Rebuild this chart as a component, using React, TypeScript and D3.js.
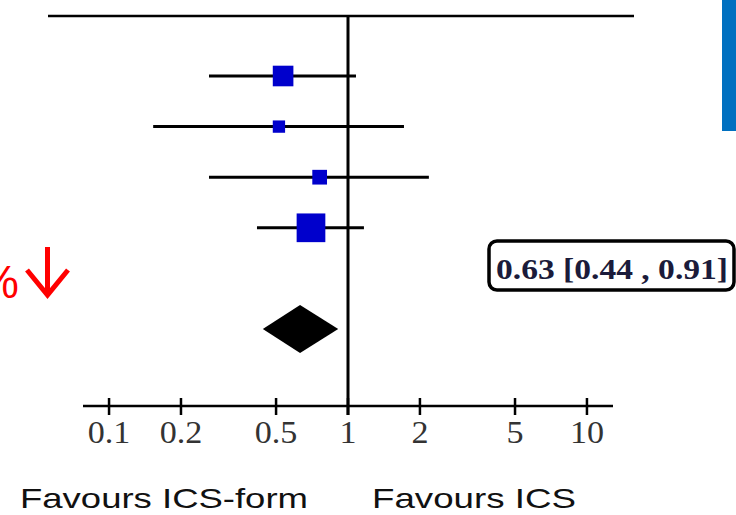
import React from "react";
import * as d3 from "d3";

// Study rows (odds ratios with 95% CI) and relative weights (%)
const studyEstimates = [0.535, 0.514, 0.761, 0.70];
const studyLower = [0.262, 0.153, 0.262, 0.416];
const studyUpper = [1.08, 1.715, 2.18, 1.166];
const studyWeights = [26.3, 9.4, 13.4, 51.0];

// Pooled estimate
const pooled = { est: 0.63, lo: 0.44, hi: 0.91 };
const pooledLabel = "0.63 [0.44 , 0.91]";

const tickValues = [0.1, 0.2, 0.5, 1, 2, 5, 10];
const tickLabels = ["0.1", "0.2", "0.5", "1", "2", "5", "10"];

const leftFavour = "Favours ICS-form";
const rightFavour = "Favours ICS";

export default function App() {
  const x = d3
    .scaleLog()
    .domain([Math.pow(10, -1.109), Math.pow(10, 1.109)])
    .range([83, 613]);
  const y = d3.scaleLinear().domain([0, 5]).range([76, 329]);
  const size = d3.scaleSqrt().domain([0, 51]).range([0, 28.7]);

  const axisY = 406;
  const topY = 16;
  const serif = "'Liberation Serif', 'Times New Roman', serif";
  const sans = "'Liberation Sans', Arial, sans-serif";

  const py = y(5);
  const dh = 24;
  const diamond = [
    [x(pooled.lo), py],
    [x(pooled.est), py - dh],
    [x(pooled.hi), py],
    [x(pooled.est), py + dh],
  ]
    .map((p) => p.join(","))
    .join(" ");

  return (
    <svg
      width={736}
      height={515}
      style={{ position: "absolute", left: 0, top: 0, background: "#fff" }}
    >
      <rect x={0} y={0} width={736} height={515} fill="#fff" />
      {/* blue decorative bar */}
      <rect x={722} y={0} width={14} height={131} fill="#0070C0" />

      {/* top line */}
      <line x1={48} x2={634} y1={topY} y2={topY} stroke="#000" strokeWidth={2.5} />
      {/* null line */}
      <line x1={x(1)} x2={x(1)} y1={topY} y2={415} stroke="#000" strokeWidth={3} />

      {/* study rows */}
      {studyEstimates.map((e, i) => {
        const s = size(studyWeights[i]);
        return (
          <g key={i}>
            <line
              x1={x(studyLower[i])}
              x2={x(studyUpper[i])}
              y1={y(i)}
              y2={y(i)}
              stroke="#000"
              strokeWidth={3}
            />
            <rect x={x(e) - s / 2} y={y(i) - s / 2} width={s} height={s} fill="#0000CC" />
          </g>
        );
      })}

      {/* pooled diamond */}
      <polygon points={diamond} fill="#000" />

      {/* axis */}
      <line x1={83} x2={613} y1={axisY} y2={axisY} stroke="#000" strokeWidth={2.5} />
      {tickValues.map((t, i) => (
        <g key={t}>
          <line x1={x(t)} x2={x(t)} y1={398} y2={415} stroke="#000" strokeWidth={2.5} />
          <text
            transform={`translate(${x(t)},443) scale(1.1,1)`}
            textAnchor="middle"
            fontFamily={serif}
            fontSize={31}
            fill="#333"
          >
            {tickLabels[i]}
          </text>
        </g>
      ))}

      {/* pooled label box */}
      <rect
        x={489}
        y={241}
        width={245}
        height={49}
        rx={8}
        ry={8}
        fill="#fff"
        stroke="#000"
        strokeWidth={3.5}
      />
      <text
        x={496}
        y={279}
        fontFamily={serif}
        fontWeight="bold"
        fontSize={30}
        fill="#1b1b3a"
        textLength={232}
        lengthAdjust="spacingAndGlyphs"
      >
        {pooledLabel}
      </text>

      {/* red reduction marker */}
      <text x={19} y={298} textAnchor="end" fontFamily={sans} fontSize={46} fill="#FF0000">
        %
      </text>
      <path
        d="M47.5,247 L47.5,295 M27,270 L47.5,295 L68,270"
        fill="none"
        stroke="#FF0000"
        strokeWidth={5}
      />

      {/* favours labels */}
      <text
        x={20}
        y={508}
        fontFamily={sans}
        fontSize={28}
        fill="#111"
        textLength={288}
        lengthAdjust="spacingAndGlyphs"
      >
        {leftFavour}
      </text>
      <text
        x={372}
        y={508}
        fontFamily={sans}
        fontSize={28}
        fill="#111"
        textLength={204}
        lengthAdjust="spacingAndGlyphs"
      >
        {rightFavour}
      </text>
    </svg>
  );
}
